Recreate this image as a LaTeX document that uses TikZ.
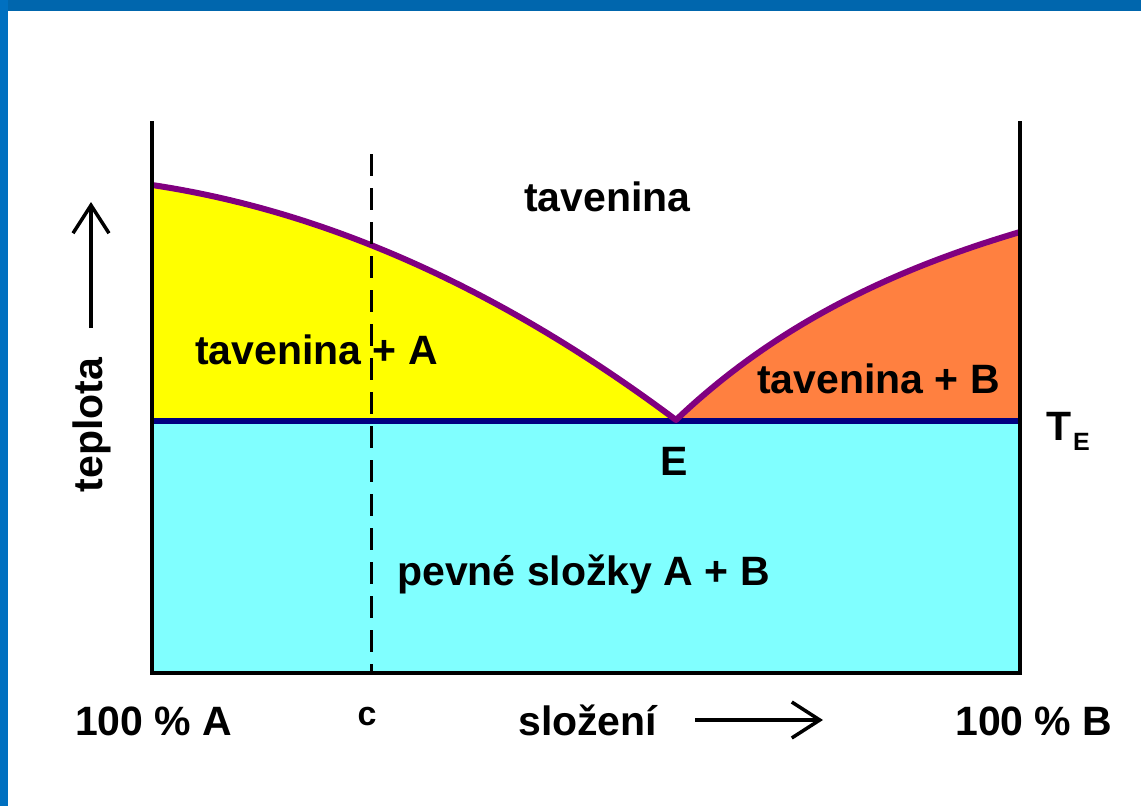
\documentclass[tikz,border=0pt]{standalone}
\usepackage{fontspec}
\setmainfont{Liberation Sans}
\usetikzlibrary{arrows.meta}
\definecolor{topblue}{HTML}{0066AD}
\definecolor{leftblue}{HTML}{0070C0}
\definecolor{liqyellow}{HTML}{FFFF00}
\definecolor{liqorange}{HTML}{FF8040}
\definecolor{solidcyan}{HTML}{80FFFF}
\definecolor{curvepurple}{HTML}{800080}
\definecolor{eutnavy}{HTML}{000080}
\begin{document}
\begin{tikzpicture}[x=1pt,y=-1pt,
  lbl/.style={font=\fontsize{41}{48}\selectfont\bfseries, inner sep=0pt, anchor=base west},
  axisline/.style={line width=4.5pt, line cap=rect},
  barb/.style={line width=3.5pt, -{Straight Barb[length=28pt,width=36pt]}}]
\useasboundingbox (0,0) rectangle (1141,806);
\fill[white] (0,0) rectangle (1141,806);
\fill[topblue] (0,0) rectangle (1141,11);
\fill[leftblue] (0,0) rectangle (8,806);
% key points
\coordinate (BL) at (152,673);
\coordinate (BR) at (1020,673);
\coordinate (TL) at (152,123);
\coordinate (TR) at (1020,123);
\coordinate (EL) at (152,421);
\coordinate (ER) at (1020,421);
\coordinate (E) at (676,420);
\coordinate (MA) at (152,185);
\coordinate (MB) at (1020,232);
\coordinate (Ctop) at (371,154);
\coordinate (Cbot) at (371,673);
% regions
\fill[solidcyan] (EL) rectangle (BR);
\fill[liqyellow] (EL) -- (MA) .. controls (326.7,211.2) and (501.3,289.2) .. (E) -- cycle;
\fill[liqorange] (E) .. controls (783,318) and (905.3,266) .. (MB) -- (ER) -- cycle;
% eutectic line
\draw[eutnavy, line width=6pt] (EL) -- (ER);
% liquidus curves
\draw[curvepurple, line width=6pt, line join=round] (MA) .. controls (326.7,211.2) and (501.3,289.2) .. (E)
  .. controls (783,318) and (905.3,266) .. (MB);
% axes
\draw[axisline] (TL) -- (BL) -- (BR) -- (TR);
% composition c
\draw[line width=3pt, dash pattern=on 22pt off 12pt] (Ctop) -- (Cbot);
% labels
\node[lbl] (liq) at (524,211) {tavenina};
\node[lbl] (liqA) at (195,364) {tavenina + A};
\node[lbl] (liqB) at (757,393) {tavenina + B};
\node[lbl, anchor=base] (Elbl) at (674,475) {E};
\node[lbl] (TE) at (1046,440) {T};
\node[font=\fontsize{25}{30}\selectfont\bfseries, inner sep=0pt, anchor=base west] (TEsub) at (1073,450) {E};
\node[lbl] (solid) at (397,585) {pevné složky A + B};
\node[lbl] (pA) at (75,735) {100 \% A};
\node[font=\fontsize{34}{40}\selectfont\bfseries, inner sep=0pt, anchor=base] (clbl) at (367,725) {c};
\node[lbl] (comp) at (518,735) {složení};
\node[lbl] (pB) at (955,735) {100 \% B};
\node[lbl, rotate=90, anchor=base] (temp) at (102,425) {teplota};
% axis arrows
\coordinate (hA0) at (695,720);
\coordinate (hA1) at (823,720);
\coordinate (vA0) at (91,328);
\coordinate (vA1) at (91,202);
\draw[barb] (hA0) -- (hA1);
\draw[barb] (vA0) -- (vA1);
\end{tikzpicture}
\end{document}
